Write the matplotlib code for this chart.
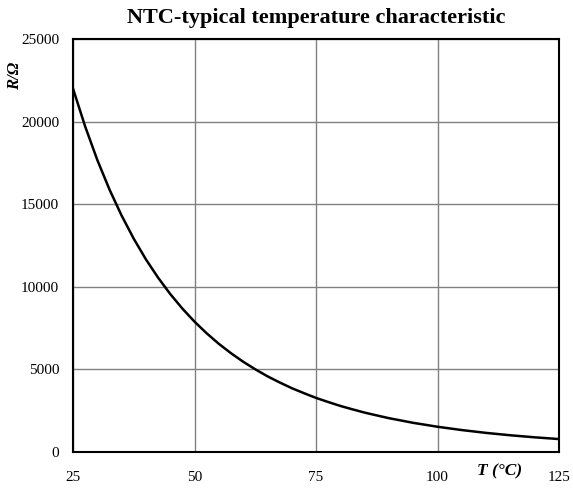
import matplotlib
matplotlib.use("Agg")
import matplotlib.pyplot as plt

# Temperature (°C) and resistance (Ω) of a typical 22 kΩ NTC thermistor
temperature = [25, 27.5, 30, 32.5, 35, 37.5, 40, 42.5, 45, 47.5, 50,
               52.5, 55, 57.5, 60, 62.5, 65, 67.5, 70, 72.5, 75,
               77.5, 80, 82.5, 85, 87.5, 90, 92.5, 95, 97.5, 100,
               105, 110, 115, 120, 125]
resistance = [22000, 19706, 17680, 15893, 14313, 12910, 11662, 10556, 9566, 8683, 7891,
              7187, 6549, 5982, 5467, 5007, 4585, 4213, 3866, 3564, 3275,
              3027, 2789, 2583, 2385, 2215, 2048, 1907, 1765, 1648, 1528,
              1328, 1157, 1012, 889, 783]

x_ticks = [25, 50, 75, 100, 125]
y_ticks = [0, 5000, 10000, 15000, 20000, 25000]

plt.rcParams["font.family"] = ["Liberation Serif", "DejaVu Serif"]

fig = plt.figure(figsize=(5.73, 4.88), dpi=100)
ax = fig.add_axes([73 / 573, 1 - 452 / 488, (559 - 73) / 573, (452 - 39) / 488])

ax.plot(temperature, resistance, color="black", linewidth=1.8, zorder=3,
        solid_joinstyle="round")

ax.set_xlim(25, 125)
ax.set_ylim(0, 25000)
ax.set_xticks(x_ticks)
ax.set_yticks(y_ticks)
ax.set_xticklabels([str(t) for t in x_ticks])
ax.set_yticklabels([str(t) for t in y_ticks])
ax.tick_params(axis="both", length=0, labelsize=11)
ax.tick_params(axis="x", pad=14)
ax.tick_params(axis="y", pad=10)
ax.grid(True, color="#808080", linewidth=1.0)
ax.set_axisbelow(True)
for s in ax.spines.values():
    s.set_linewidth(1.5)
    s.set_color("black")

fig.text(0.5 * (73 + 559) / 573, 1 - 18 / 488, "NTC-typical temperature characteristic",
         ha="center", va="center", fontsize=16, fontweight="bold")
fig.text(15 / 573, 1 - 76 / 488, "R/Ω", rotation=90, ha="center", va="center",
         fontsize=12, fontweight="bold", fontstyle="italic")
fig.text(500 / 573, 1 - 471 / 488, "T (°C)", ha="center", va="center",
         fontsize=12.5, fontweight="bold", fontstyle="italic")

fig.savefig("out.png", dpi=100)
